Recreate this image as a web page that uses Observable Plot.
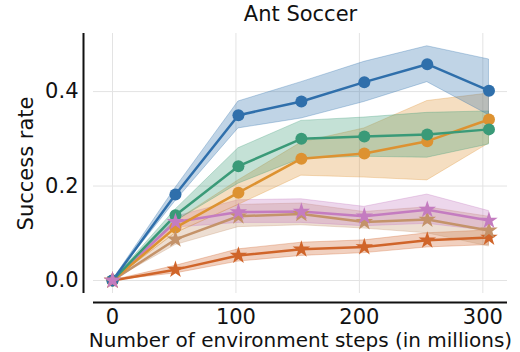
<!DOCTYPE html>
<html><head><meta charset="utf-8">
<script src="https://cdn.jsdelivr.net/npm/d3@7"></script>
<script src="https://cdn.jsdelivr.net/npm/@observablehq/plot@0.6"></script>
<style>body{margin:0;background:#fff;} svg{font-family:"DejaVu Sans",sans-serif;}</style>
</head><body><div id="chart"></div>
<script>
const title = "Ant Soccer";
const xLabel = "Number of environment steps (in millions)";
const yLabel = "Success rate";
const steps = [0, 51, 102, 153, 204, 255, 305];
const xTicks = [0, 100, 200, 300];
const yTicks = [0, 0.2, 0.4];

const seriesNames = ["S1", "S2", "S3", "S4", "S5", "S6"];
const seriesColors = ["#d0652a", "#c4936a", "#c47cc0", "#dd9231", "#3a9a78", "#2f6fab"];
const seriesSymbols = ["star", "star", "star", "circle", "circle", "circle"];

const s1Mean  = [0, 0.023, 0.053, 0.066, 0.071, 0.085, 0.091];
const s1Lower = [0, 0.015, 0.040, 0.052, 0.058, 0.070, 0.075];
const s1Upper = [0, 0.031, 0.066, 0.080, 0.085, 0.100, 0.106];

const s2Mean  = [0, 0.087, 0.136, 0.141, 0.124, 0.129, 0.106];
const s2Lower = [0, 0.075, 0.113, 0.117, 0.110, 0.100, 0.072];
const s2Upper = [0, 0.100, 0.160, 0.163, 0.145, 0.155, 0.135];

const s3Mean  = [0, 0.124, 0.145, 0.146, 0.136, 0.150, 0.127];
const s3Lower = [0, 0.112, 0.122, 0.122, 0.115, 0.120, 0.105];
const s3Upper = [0, 0.135, 0.170, 0.172, 0.156, 0.182, 0.147];

const s4Mean  = [0, 0.112, 0.186, 0.258, 0.269, 0.295, 0.341];
const s4Lower = [0, 0.100, 0.160, 0.222, 0.218, 0.212, 0.290];
const s4Upper = [0, 0.125, 0.212, 0.292, 0.322, 0.380, 0.396];

const s5Mean  = [0, 0.138, 0.242, 0.300, 0.305, 0.309, 0.320];
const s5Lower = [0, 0.125, 0.205, 0.258, 0.262, 0.260, 0.288];
const s5Upper = [0, 0.150, 0.280, 0.338, 0.345, 0.355, 0.358];

const s6Mean  = [0, 0.182, 0.350, 0.379, 0.420, 0.458, 0.402];
const s6Lower = [0, 0.168, 0.322, 0.343, 0.378, 0.420, 0.350];
const s6Upper = [0, 0.196, 0.379, 0.420, 0.463, 0.496, 0.468];

const means = [s1Mean, s2Mean, s3Mean, s4Mean, s5Mean, s6Mean];
const lowers = [s1Lower, s2Lower, s3Lower, s4Lower, s5Lower, s6Lower];
const uppers = [s1Upper, s2Upper, s3Upper, s4Upper, s5Upper, s6Upper];

const rows = [];
seriesNames.forEach((name, i) => {
  steps.forEach((s, j) => rows.push({series: name, step: s, mean: means[i][j], lo: lowers[i][j], hi: uppers[i][j], sym: seriesSymbols[i]}));
});
const starRows = rows.filter(d => d.sym === "star");
const circleRows = rows.filter(d => d.sym === "circle");

const xDom = [-15.4, 320];
const yDom = [-0.0275, 0.523];
const FS = 21;

const chart = Plot.plot({
  width: 520, height: 352,
  marginLeft: 93, marginRight: 13, marginTop: 33, marginBottom: 59,
  style: {fontFamily: "DejaVu Sans, sans-serif", background: "#fff"},
  x: {domain: xDom},
  y: {domain: yDom},
  color: {domain: seriesNames, range: seriesColors},
  marks: [
    Plot.gridX(xTicks, {stroke: "#e3e3e3", strokeOpacity: 1, strokeWidth: 1}),
    Plot.gridY(yTicks, {stroke: "#e3e3e3", strokeOpacity: 1, strokeWidth: 1}),
    Plot.axisY(yTicks, {tickSize: 0, tickPadding: 15, fontSize: FS, tickFormat: d3.format(".1f"), label: null, fill: "#111"}),
    Plot.axisX(xTicks, {tickSize: 0, tickPadding: 16, fontSize: FS, tickFormat: d3.format("d"), label: null, fill: "#111"}),
    Plot.ruleX([xDom[0]], {y1: yDom[0], y2: yDom[1], dx: -10, stroke: "#111", strokeWidth: 2}),
    Plot.ruleY([yDom[0]], {x1: xDom[0], x2: xDom[1], dy: 9, stroke: "#111", strokeWidth: 2}),
    Plot.areaY(rows, {x: "step", y1: "lo", y2: "hi", z: "series", fill: "series", fillOpacity: 0.3, stroke: "series", strokeOpacity: 0.3, strokeWidth: 1, curve: "linear"}),
    Plot.lineY(rows, {x: "step", y: "mean", z: "series", stroke: "series", strokeWidth: 2.5}),
    Plot.dot(circleRows, {x: "step", y: "mean", fill: "series", symbol: "circle", r: 6, stroke: "none"}),
    Plot.dot(starRows, {x: "step", y: "mean", fill: "series", symbol: "star", r: 5.5, stroke: "none"}),
    Plot.text([title], {frameAnchor: "top", dy: -13, fontSize: FS, fill: "#111", lineAnchor: "bottom"}),
    Plot.text([xLabel], {frameAnchor: "bottom", dy: 47, fontSize: 20, fill: "#111", lineAnchor: "middle"}),
    Plot.text([yLabel], {frameAnchor: "left", dx: -67, rotate: -90, textAnchor: "middle", fontSize: FS, fill: "#111", lineAnchor: "middle"})
  ]
});
document.getElementById("chart").appendChild(chart);
</script></body></html>
